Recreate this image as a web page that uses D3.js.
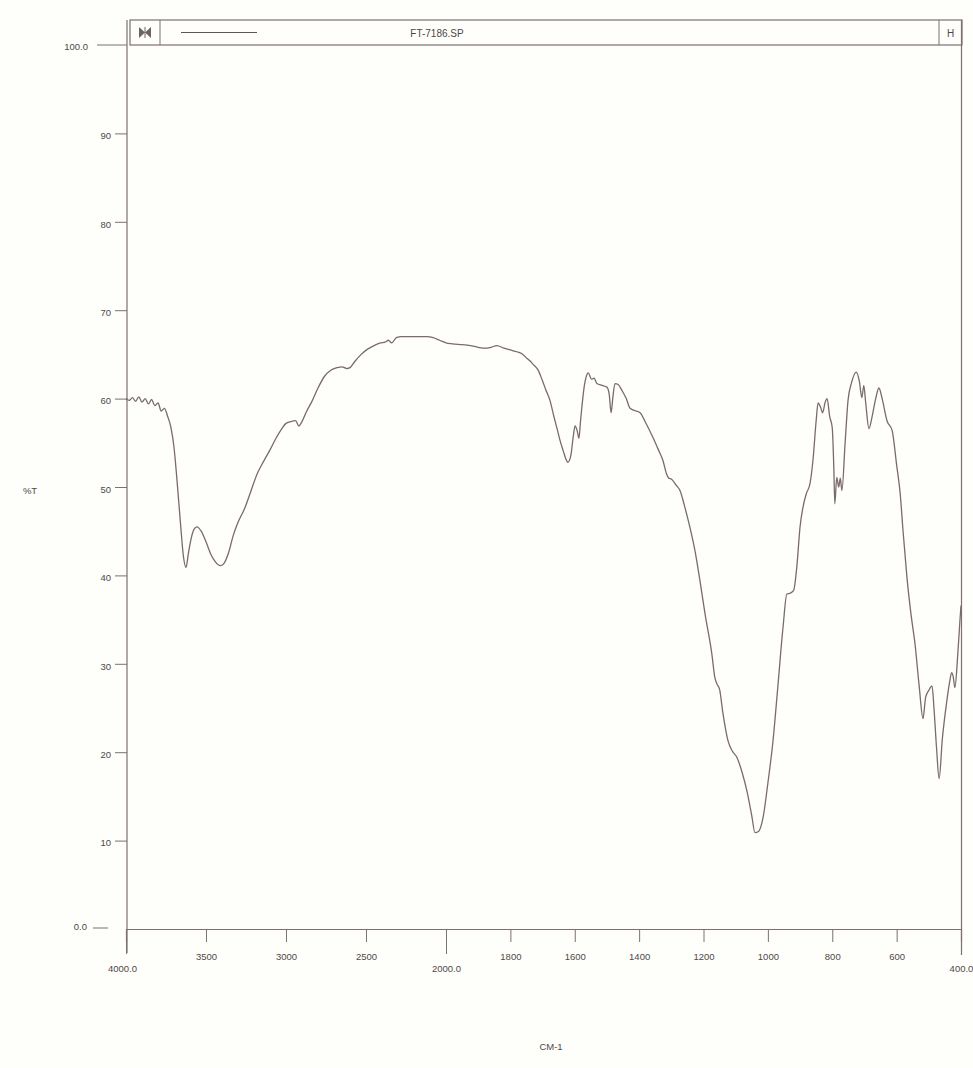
<!DOCTYPE html>
<html lang="en">
<head>
<meta charset="utf-8">
<title>FT-7186.SP</title>
<script src="https://cdn.jsdelivr.net/npm/d3@7"></script>
<style>
  body { margin: 0; background: #fefefa; }
  svg { display: block; }
  text { font-family: "Liberation Sans", Arial, sans-serif; fill: #4f4848; }
  .axis path, .axis line { stroke: #7d7070; }
  .axis text { font-size: 9.5px; }
</style>
</head>
<body>
<svg id="chart" width="973" height="1068"></svg>
<script>
// wavenumber (cm-1) and %T
var wavenumber = [4000,3980,3960,3940,3920,3900,3880,3860,3840,3820,3800,3780,3760,3740,3720,3700,3680,3660,3640,3625,
  3610,3595,3575,3556,3530,3500,3470,3440,3410,3390,3360,3330,3300,3260,3220,3180,3140,3100,3060,3030,
  3000,2970,2940,2920,2900,2870,2840,2800,2760,2720,2680,2650,2620,2600,2570,2530,2490,2450,2410,2380,
  2360,2340,2310,2280,2200,2120,2080,2040,2000,1980,1950,1925,1900,1880,1860,1842,1820,1800,1780,1765,
  1750,1740,1730,1715,1700,1690,1677,1665,1655,1646,1635,1628,1621,1612,1605,1599,1592,1587,1582,1578,
  1570,1565,1558,1548,1540,1531,1515,1500,1493,1487,1482,1475,1465,1453,1440,1428,1410,1397,1380,1357,
  1340,1326,1315,1308,1300,1285,1273,1260,1248,1242,1225,1211,1195,1174,1165,1158,1150,1140,1124,1110,
  1096,1080,1065,1050,1040,1030,1015,1000,984,970,953,941,930,920,910,900,891,880,869,860,
  850,844,836,830,822,816,808,800,795,792,786,780,775,770,760,751,740,726,716,708,
  702,696,686,676,665,655,645,630,614,600,589,580,568,555,543,530,518,510,500,490,
  484,476,468,458,444,435,429,424,419,410,404,400];
var transmittance = [60.0,59.8,60.1,59.7,60.2,59.6,60.0,59.4,59.9,59.2,59.5,58.6,58.9,58.0,56.8,54.5,50.5,46.0,42.0,40.9,
  42.5,44.0,45.2,45.5,45.0,43.8,42.4,41.5,41.1,41.3,42.5,44.5,46.0,47.5,49.5,51.5,52.9,54.2,55.6,56.5,
  57.2,57.4,57.5,56.9,57.4,58.6,59.6,61.2,62.5,63.2,63.5,63.6,63.4,63.5,64.2,65.0,65.6,66.0,66.3,66.4,
  66.6,66.3,66.9,67.0,67.0,67.0,66.9,66.6,66.3,66.2,66.1,66.0,65.8,65.7,65.8,66.0,65.7,65.5,65.3,65.1,
  64.6,64.3,63.9,63.3,62.0,61.0,59.8,58.0,56.6,55.3,54.0,53.2,52.8,53.6,55.6,56.9,56.3,55.5,57.5,59.0,
  61.5,62.4,62.9,62.2,62.3,61.7,61.5,61.3,60.5,58.4,60.0,61.7,61.6,60.9,60.0,58.9,58.6,58.4,57.3,55.6,
  54.2,53.0,51.5,51.0,50.9,50.2,49.6,48.0,46.3,45.4,42.5,39.4,35.6,31.1,28.5,27.7,27.1,24.5,21.3,20.1,
  19.4,17.7,15.6,12.8,10.9,11.0,12.6,16.5,21.3,27.0,34.1,37.9,38.0,38.3,41.0,45.5,47.7,49.3,50.4,53.0,
  57.5,59.5,59.0,58.4,59.6,60.0,58.0,56.7,52.0,48.1,51.1,50.0,51.0,49.6,55.0,59.8,61.8,63.0,62.0,60.1,
  61.5,59.5,56.6,58.0,60.0,61.2,60.0,57.5,56.4,52.5,49.3,45.0,39.8,35.5,32.3,27.5,23.8,26.2,27.0,27.5,
  25.0,20.5,17.0,21.5,25.8,28.0,29.0,28.5,27.3,31.1,34.5,36.6];

var xTicks = [4000,3500,3000,2500,2000,1800,1600,1400,1200,1000,800,600,400];
var xMajor = [4000,2000,400];
var yTicks = [10,20,30,40,50,60,70,80,90];
var title = "FT-7186.SP";

var ink = "#7d7070";
var svg = d3.select("#chart");

// x axis is split: 4000-2000 compressed, 2000-400 expanded
var x = d3.scaleLinear().domain([4000, 2000, 400]).range([126, 446, 961]);
var y = d3.scaleLinear().domain([0, 100]).range([929, 45]);

// frame: left and right borders run up to the header box
svg.append("line").attr("x1", 127).attr("x2", 127).attr("y1", 20).attr("y2", 953)
  .attr("stroke", ink).attr("stroke-width", 1.2);
svg.append("line").attr("x1", 961.5).attr("x2", 961.5).attr("y1", 20).attr("y2", 955)
  .attr("stroke", ink).attr("stroke-width", 1.2);

// header box
var head = svg.append("g");
head.append("rect").attr("x", 130).attr("y", 20).attr("width", 832).attr("height", 25)
  .attr("fill", "none").attr("stroke", ink).attr("stroke-width", 1.2);
head.append("line").attr("x1", 160).attr("x2", 160).attr("y1", 20).attr("y2", 45).attr("stroke", ink);
head.append("line").attr("x1", 939).attr("x2", 939).attr("y1", 20).attr("y2", 45).attr("stroke", ink);
head.append("path").attr("d", "M139,27 L145,32.5 L139,38 Z M151,27 L145,32.5 L151,38 Z")
  .attr("fill", "#6e6262");
head.append("line").attr("x1", 145).attr("x2", 145).attr("y1", 27).attr("y2", 38).attr("stroke", "#6e6262");
head.append("line").attr("x1", 181).attr("x2", 257).attr("y1", 32.5).attr("y2", 32.5)
  .attr("stroke", "#5f5656").attr("stroke-width", 1.2);
head.append("text").attr("x", 437).attr("y", 36.5).attr("text-anchor", "middle")
  .style("font-size", "10px").text(title);
head.append("text").attr("x", 950.5).attr("y", 37).attr("text-anchor", "middle")
  .style("font-size", "10px").text("H");

// x axis
var xAxis = svg.append("g").attr("class", "axis")
  .attr("transform", "translate(0,929)")
  .call(d3.axisBottom(x).tickValues(xTicks).tickSizeOuter(0)
    .tickSize(13).tickPadding(11)
    .tickFormat(function(d) { return xMajor.indexOf(d) >= 0 ? d3.format(".1f")(d) : d; }));
xAxis.select(".domain").attr("stroke-width", 1.2);
xAxis.selectAll(".tick").filter(function(d) { return xMajor.indexOf(d) >= 0; })
  .each(function() {
    var t = d3.select(this);
    t.select("line").attr("y2", 25);
    t.select("text").attr("y", 36);
  });
xAxis.selectAll(".tick").filter(function(d) { return d === 4000; })
  .select("text").attr("dx", -4);

// y axis
var yAxis = svg.append("g").attr("class", "axis")
  .attr("transform", "translate(127,0)")
  .call(d3.axisLeft(y).tickValues(yTicks).tickSize(12).tickPadding(4).tickSizeOuter(0));
yAxis.select(".domain").remove();
yAxis.selectAll(".tick text").attr("dy", "0.55em");

// end ticks at 100.0 and 0.0
svg.append("line").attr("x1", 97).attr("x2", 127).attr("y1", y(100)).attr("y2", y(100)).attr("stroke", ink);
svg.append("text").attr("x", 88).attr("y", y(100) + 5).attr("text-anchor", "end")
  .style("font-size", "9.5px").text("100.0");
svg.append("line").attr("x1", 93).attr("x2", 108).attr("y1", y(0) - 1).attr("y2", y(0) - 1).attr("stroke", ink);
svg.append("text").attr("x", 87).attr("y", y(0) + 1).attr("text-anchor", "end")
  .style("font-size", "9.5px").text("0.0");

// axis titles
svg.append("text").attr("x", 30).attr("y", 494).attr("text-anchor", "middle")
  .style("font-size", "9.5px").text("%T");
svg.append("text").attr("x", 551).attr("y", 1050).attr("text-anchor", "middle")
  .style("font-size", "9.5px").text("CM-1");

// spectrum
var pts = wavenumber.map(function(w, i) { return [w, transmittance[i]]; });
var line = d3.line().x(function(d) { return x(d[0]); }).y(function(d) { return y(d[1]); })
  .curve(d3.curveMonotoneX);
svg.append("path").datum(pts)
  .attr("d", line)
  .attr("fill", "none")
  .attr("stroke", "#7a6a6c")
  .attr("stroke-width", 1.3);
</script>
</body>
</html>
